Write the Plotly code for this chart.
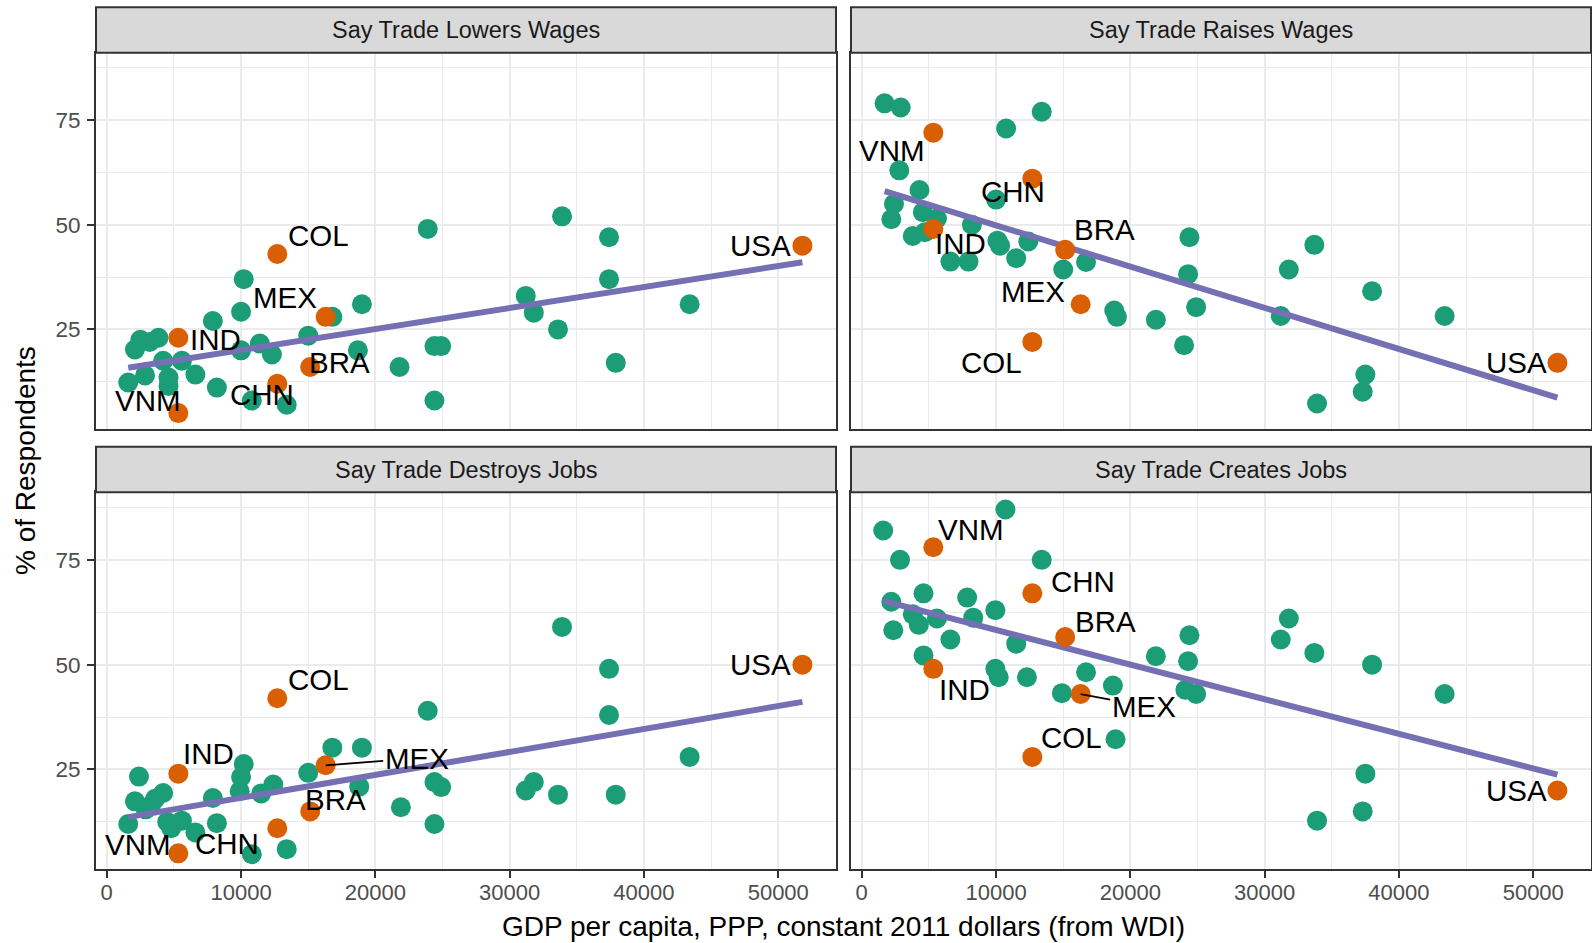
import numpy as np
import plotly.graph_objects as go

# ---------------- data ----------------
panel_titles = ["Say Trade Lowers Wages", "Say Trade Raises Wages",
                "Say Trade Destroys Jobs", "Say Trade Creates Jobs"]

label_codes = ["VNM", "IND", "COL", "CHN", "BRA", "MEX", "USA"]
label_gdp = [5330, 5330, 12700, 12700, 15150, 16300, 51800]

lowers_label_pct = [5, 23, 43, 12, 16, 28, 45]
raises_label_pct = [72, 49, 22, 61, 44, 31, 17]
destroys_label_pct = [5, 24, 42, 11, 15, 26, 50]
creates_label_pct = [78, 49, 28, 67, 56.6, 43, 20]

lowers_gdp = [1600, 2100, 2500, 2850, 3200, 3850, 4200, 4600, 4600, 5600, 6600, 7900, 8200,
              10000, 10200, 10000, 10800, 11400, 12300, 13400, 15000, 16800, 18700, 19000,
              21800, 23900, 24400, 24900, 24400, 31200, 31800, 33600, 33900, 37400, 37400,
              37900, 43400]
lowers_pct = [12.3, 20.2, 22.5, 14.0, 22.0, 23.0, 17.5, 13.5, 11.5, 17.5, 14.2, 27.0, 11.1,
              29.2, 37.0, 20.0, 8.0, 21.6, 19.0, 7.0, 23.5, 28.0, 20.0, 31.0,
              16.0, 49.0, 21.0, 21.0, 8.0, 33.0, 29.0, 25.0, 52.0, 47.0, 37.0,
              17.0, 31.0]

raises_gdp = [1700, 2900, 13400, 10750, 2800, 4300, 2400, 10000, 2200, 4550, 5600, 8200, 3800,
              4700, 10100, 10300, 12400, 11500, 6600, 7950, 15000, 16700, 24400, 24300, 24900,
              18800, 19000, 21900, 24000, 33700, 31800, 31200, 38000, 43400, 37500, 37300, 33900]
raises_pct = [79, 78, 77, 73, 63, 58.3, 55, 56, 51.3, 53, 51.5, 50, 47.3,
              48.2, 46.2, 45, 46, 42, 41.2, 41.2, 39.3, 41.1, 47, 38.2, 30.3,
              29.5, 28, 27.3, 21.2, 45.2, 39.3, 28.2, 34.1, 28.2, 14.2, 10.1, 7.3]

destroys_gdp = [1600, 2100, 2400, 2900, 3300, 3600, 4200, 4500, 4800, 5600, 6600, 7900, 8200,
                9900, 10000, 10200, 10800, 11500, 12400, 13400, 15000, 16800, 18800, 19000,
                21900, 23900, 24400, 24900, 24400, 31200, 31800, 33600, 33900, 37400, 37400,
                37900, 43400]
destroys_pct = [12, 17.4, 23.3, 15.5, 16.5, 18, 19.4, 12.5, 11, 12.8, 10, 18.2, 12.2,
                19.8, 23.2, 26.3, 4.8, 19.3, 21.4, 6, 24.2, 30.2, 20.9, 30.2,
                16, 39, 22, 20.8, 12, 20, 22, 19, 59, 49, 38,
                19, 28]

creates_gdp = [1600, 2200, 2350, 2850, 3800, 4250, 4600, 4600, 5600, 6600, 7850, 8300, 9950,
               9950, 10200, 10700, 11500, 12300, 13400, 14900, 16700, 18700, 18900, 21900,
               24400, 24300, 24100, 24900, 31800, 31200, 33700, 38000, 43400, 37500, 37300, 33900]
creates_pct = [82, 65, 58.2, 75, 62, 59.5, 67, 52.2, 61, 56, 66, 61.2, 63,
               49, 47, 87, 55, 47, 75, 43.2, 48.2, 45, 32.2, 52,
               57, 50.8, 44, 43, 61, 56, 52.8, 50, 43, 24, 15, 12.8]

x_ticks = [0, 10000, 20000, 30000, 40000, 50000]
y_ticks = [25, 50, 75]

# ---------------- styling / layout ----------------
GREEN = "#1B9E77"
ORANGE = "#D95F02"
PURPLE = "#7570B3"
FONT = "Liberation Sans, Arial, Helvetica, sans-serif"
W, H = 1592, 943

panels = [
    (lowers_gdp, lowers_pct, lowers_label_pct),
    (raises_gdp, raises_pct, raises_label_pct),
    (destroys_gdp, destroys_pct, destroys_label_pct),
    (creates_gdp, creates_pct, creates_label_pct),
]

# label offsets in pixels (dx right, dy down); third item True draws a segment
label_offsets = [
    {"VNM": (-30, -13), "IND": (37, 2), "COL": (41, -19), "CHN": (-15, 11),
     "BRA": (29, -5), "MEX": (-41, -19), "USA": (-42, 0)},
    {"VNM": (-41, 18), "IND": (27, 15), "COL": (-41, 21), "CHN": (-19, 13),
     "BRA": (39, -20), "MEX": (-48, -13), "USA": (-41, 0)},
    {"VNM": (-40, -9), "IND": (30, -20), "COL": (41, -19), "CHN": (-50, 15),
     "BRA": (25, -12), "MEX": (91, -7, True), "USA": (-42, 0)},
    {"VNM": (38, -18), "IND": (31, 21), "COL": (39, -19), "CHN": (51, -12),
     "BRA": (40, -15), "MEX": (63, 12, True), "USA": (-41, 0)},
]

# pixel boxes of panels
px_x = [(96, 836), (851, 1591), (96, 836), (851, 1591)]
px_y = [(52.7, 429), (52.7, 429), (492.3, 869.3), (492.3, 869.3)]
strip_y = [(7.3, 52.7), (7.3, 52.7), (446.7, 492.3), (446.7, 492.3)]

LABEL_SIZE = 29.5

fig = go.Figure()
layout = dict(
    width=W, height=H, margin=dict(l=0, r=0, t=0, b=0),
    paper_bgcolor="white", plot_bgcolor="white", showlegend=False,
    font=dict(family=FONT, color="black"),
)
shapes = []
annotations = []

for i, (gx, gy, lp) in enumerate(panels):
    k = "" if i == 0 else str(i + 1)
    xa, ya = "x" + k, "y" + k
    fig.add_trace(go.Scatter(x=gx, y=gy, mode="markers", xaxis=xa, yaxis=ya,
                             marker=dict(color=GREEN, size=20, line=dict(width=0)),
                             hoverinfo="skip"))
    allx = np.array(list(gx) + list(label_gdp), dtype=float)
    ally = np.array(list(gy) + list(lp), dtype=float)
    b, a = np.polyfit(allx, ally, 1)
    lx = np.array([allx.min(), allx.max()])
    fig.add_trace(go.Scatter(x=lx, y=a + b * lx, mode="lines", xaxis=xa, yaxis=ya,
                             line=dict(color=PURPLE, width=6), hoverinfo="skip"))
    fig.add_trace(go.Scatter(x=label_gdp, y=lp, mode="markers", xaxis=xa, yaxis=ya,
                             marker=dict(color=ORANGE, size=20, line=dict(width=0)),
                             hoverinfo="skip"))
    for code, gxv, pv in zip(label_codes, label_gdp, lp):
        off = label_offsets[i][code]
        if len(off) == 3:
            annotations.append(dict(x=gxv, y=pv, xref=xa, yref=ya, text=code,
                                    showarrow=True, arrowhead=0, arrowwidth=1.8,
                                    arrowcolor="black", ax=off[0], ay=off[1],
                                    axref="pixel", ayref="pixel", standoff=0,
                                    font=dict(size=LABEL_SIZE, color="black", family=FONT)))
        else:
            annotations.append(dict(x=gxv, y=pv, xref=xa, yref=ya, text=code,
                                    showarrow=False, xshift=off[0], yshift=-off[1],
                                    font=dict(size=LABEL_SIZE, color="black", family=FONT)))

    l, r = px_x[i]
    t, btm = px_y[i]
    bottom_row = i >= 2
    left_col = i % 2 == 0
    layout["xaxis" + k] = dict(
        domain=[l / W, r / W], anchor=ya, range=[-800, 54300],
        tickvals=x_ticks, ticktext=[str(v) for v in x_ticks],
        showticklabels=bottom_row, ticks="outside" if bottom_row else "",
        ticklen=7, tickwidth=2, tickcolor="#333333",
        tickfont=dict(size=22, color="#4D4D4D", family=FONT),
        ticklabelstandoff=-5,
        showgrid=True, gridcolor="#EBEBEB", gridwidth=2,
        minor=dict(tick0=5000, dtick=10000, showgrid=True, gridcolor="#EBEBEB",
                   gridwidth=1.2, ticks=""),
        showline=True, mirror=True, linecolor="#333333", linewidth=2,
        zeroline=False, fixedrange=True,
    )
    layout["yaxis" + k] = dict(
        domain=[1 - btm / H, 1 - t / H], anchor=xa, range=[1.2, 91.1],
        tickvals=y_ticks, ticktext=[str(v) for v in y_ticks],
        showticklabels=left_col, ticks="outside" if left_col else "",
        ticklen=7, tickwidth=2, tickcolor="#333333",
        tickfont=dict(size=22.5, color="#4D4D4D", family=FONT),
        ticklabelstandoff=2,
        showgrid=True, gridcolor="#EBEBEB", gridwidth=2,
        minor=dict(tick0=12.5, dtick=25, showgrid=True, gridcolor="#EBEBEB",
                   gridwidth=1.2, ticks=""),
        showline=True, mirror=True, linecolor="#333333", linewidth=2,
        zeroline=False, fixedrange=True,
    )
    st, sb = strip_y[i]
    shapes.append(dict(type="rect", xref="paper", yref="paper",
                       x0=l / W, x1=r / W, y0=1 - sb / H, y1=1 - st / H,
                       fillcolor="#D9D9D9", line=dict(color="#333333", width=2),
                       layer="above"))
    annotations.append(dict(x=(l + r) / 2 / W, y=1 - (st + sb) / 2 / H,
                            xref="paper", yref="paper", text=panel_titles[i],
                            showarrow=False, xanchor="center", yanchor="middle",
                            font=dict(size=23.5, color="#1A1A1A", family=FONT)))

annotations.append(dict(x=(96 + 1591) / 2 / W, y=1 - 926 / H, xref="paper", yref="paper",
                        text="GDP per capita, PPP, constant 2011 dollars (from WDI)",
                        showarrow=False, xanchor="center", yanchor="middle",
                        font=dict(size=28, color="black", family=FONT)))
annotations.append(dict(x=25 / W, y=1 - 461 / H, xref="paper", yref="paper",
                        text="% of Respondents", textangle=-90,
                        showarrow=False, xanchor="center", yanchor="middle",
                        font=dict(size=28, color="black", family=FONT)))

layout["shapes"] = shapes
layout["annotations"] = annotations
fig.update_layout(**layout)
fig.write_html("out.html", config={"displayModeBar": False},
               post_script="document.body.style.margin='0px';document.body.style.overflow='hidden';")
